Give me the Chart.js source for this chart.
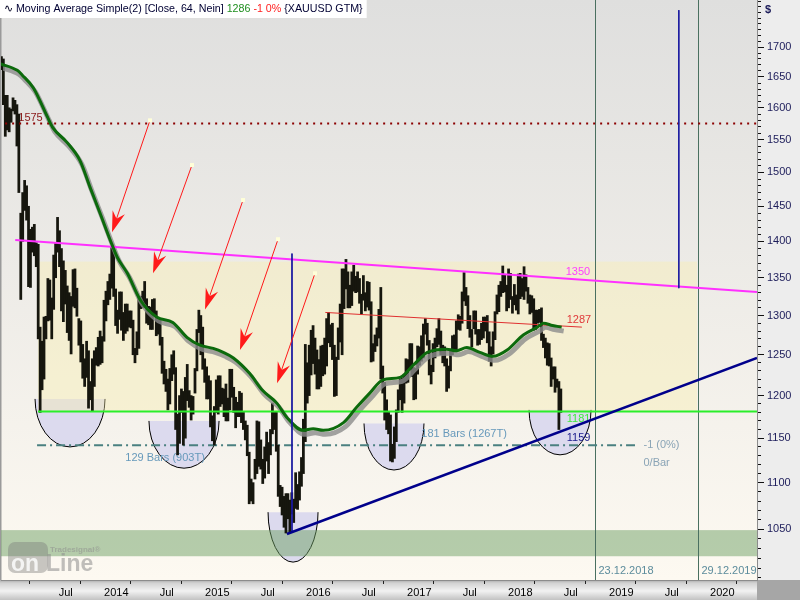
<!DOCTYPE html>
<html>
<head>
<meta charset="utf-8">
<title>XAUUSD weekly</title>
<script src="https://cdn.jsdelivr.net/npm/chart.js@4.4.0/dist/chart.umd.min.js"></script>
<style>
  html, body { margin: 0; padding: 0; background: #ededed; }
  #chart { display: block; }
</style>
</head>
<body>
<canvas id="chart" width="800" height="600"></canvas>
<script>
// weekly lows / highs of XAUUSD, first bar = week of 4 Feb 2013
const lows2013 = [1662, 1605, 1555, 1565, 1562, 1577, 1595, 1590, 1540, 1470, 1321, 1400, 1444,
  1430, 1338, 1337, 1385, 1380, 1365, 1270, 1180, 1207, 1220, 1270, 1293, 1294,
  1270, 1308, 1350, 1385, 1365, 1306, 1292, 1315, 1278, 1268, 1251, 1312, 1310,
  1299, 1262, 1241, 1221, 1211, 1222, 1185, 1195, 1182];
const highs2013 = [1684, 1680, 1620, 1620, 1600, 1598, 1616, 1612, 1605, 1590, 1440, 1470, 1488,
  1480, 1450, 1417, 1420, 1424, 1398, 1396, 1285, 1267, 1298, 1299, 1349, 1347,
  1323, 1381, 1397, 1434, 1415, 1390, 1373, 1360, 1339, 1330, 1325, 1361, 1362,
  1336, 1296, 1293, 1263, 1245, 1267, 1255, 1217, 1245];

const lows2014 = [1211, 1237, 1236, 1238, 1240, 1267, 1293, 1314, 1321, 1336, 1325, 1287, 1277,
  1295, 1281, 1268, 1277, 1280, 1285, 1284, 1250, 1240, 1250, 1258, 1309, 1310,
  1310, 1290, 1288, 1282, 1282, 1300, 1274, 1276, 1262, 1227, 1214, 1205, 1183,
  1190, 1218, 1226, 1160, 1131, 1144, 1180, 1142, 1150, 1194, 1186, 1171, 1178];
const highs2014 = [1255, 1259, 1272, 1280, 1273, 1320, 1332, 1345, 1355, 1392, 1390, 1335, 1307,
  1331, 1331, 1304, 1315, 1315, 1306, 1306, 1294, 1258, 1279, 1325, 1325, 1332,
  1345, 1322, 1312, 1311, 1321, 1322, 1306, 1296, 1294, 1272, 1242, 1232, 1220,
  1233, 1250, 1255, 1234, 1178, 1200, 1208, 1205, 1222, 1238, 1206, 1200, 1199];

const lows2015 = [1203, 1230, 1278, 1250, 1232, 1216, 1196, 1196, 1163, 1147, 1142, 1180, 1178,
  1187, 1190, 1175, 1170, 1170, 1183, 1198, 1180, 1162, 1175, 1175, 1168, 1160,
  1148, 1130, 1077, 1080, 1077, 1104, 1110, 1118, 1115, 1099, 1105, 1124, 1110,
  1131, 1155, 1160, 1135, 1085, 1074, 1065, 1052, 1046, 1061, 1047, 1066, 1057];
const highs2015 = [1233, 1282, 1307, 1300, 1285, 1245, 1235, 1224, 1218, 1176, 1187, 1219, 1224,
  1224, 1209, 1208, 1214, 1197, 1232, 1232, 1210, 1198, 1192, 1205, 1203, 1180,
  1170, 1165, 1134, 1104, 1100, 1126, 1170, 1169, 1148, 1126, 1140, 1157, 1145,
  1160, 1191, 1180, 1180, 1142, 1097, 1095, 1085, 1088, 1088, 1081, 1089, 1082];

const lows2016 = [1072, 1071, 1081, 1096, 1110, 1146, 1191, 1200, 1225, 1239, 1226, 1208, 1208,
  1211, 1224, 1226, 1236, 1265, 1260, 1244, 1199, 1200, 1244, 1266, 1250, 1309,
  1335, 1310, 1310, 1313, 1332, 1330, 1331, 1316, 1302, 1320, 1306, 1311, 1307,
  1241, 1242, 1254, 1261, 1271, 1220, 1203, 1171, 1160, 1155, 1124, 1123, 1127];
const highs2016 = [1111, 1098, 1112, 1128, 1172, 1263, 1240, 1262, 1281, 1287, 1271, 1256, 1244,
  1261, 1262, 1271, 1296, 1304, 1288, 1290, 1262, 1247, 1284, 1315, 1362, 1362,
  1375, 1358, 1340, 1358, 1367, 1352, 1358, 1349, 1328, 1353, 1330, 1345, 1344,
  1318, 1264, 1275, 1284, 1308, 1337, 1236, 1216, 1195, 1180, 1177, 1143, 1163];

const lows2017 = [1146, 1180, 1195, 1180, 1191, 1215, 1216, 1232, 1223, 1195, 1196, 1226, 1237,
  1242, 1246, 1276, 1262, 1225, 1214, 1229, 1246, 1260, 1263, 1250, 1240, 1236,
  1205, 1209, 1230, 1250, 1256, 1256, 1282, 1281, 1290, 1319, 1313, 1283, 1272,
  1260, 1283, 1276, 1262, 1263, 1269, 1271, 1280, 1265, 1242, 1236, 1251, 1269];
const highs2017 = [1183, 1207, 1220, 1221, 1226, 1245, 1244, 1264, 1264, 1234, 1233, 1261, 1260,
  1274, 1289, 1296, 1290, 1268, 1237, 1264, 1271, 1283, 1296, 1280, 1262, 1260,
  1245, 1236, 1257, 1274, 1275, 1293, 1301, 1299, 1331, 1357, 1337, 1326, 1300,
  1282, 1306, 1306, 1282, 1282, 1290, 1298, 1298, 1300, 1279, 1260, 1279, 1305];

const lows2018 = [1302, 1305, 1325, 1330, 1331, 1306, 1310, 1321, 1303, 1314, 1307, 1302, 1322,
  1325, 1321, 1332, 1316, 1302, 1304, 1281, 1282, 1290, 1291, 1268, 1259, 1246,
  1237, 1236, 1211, 1220, 1204, 1210, 1160, 1180];
const highs2018 = [1327, 1340, 1345, 1366, 1354, 1340, 1362, 1356, 1325, 1341, 1327, 1355, 1356,
  1349, 1365, 1354, 1337, 1327, 1326, 1322, 1307, 1307, 1308, 1310, 1276, 1271,
  1265, 1264, 1246, 1235, 1235, 1220, 1217, 1208];

const lows = [].concat(lows2013, lows2014, lows2015, lows2016, lows2017, lows2018);
const highs = [].concat(highs2013, highs2014, highs2015, highs2016, highs2017, highs2018);
const firstWeek = 2013 + 34 / 365; // 4 Feb 2013 as decimal year

// 64 week simple moving average
const maTimes = [2013.08, 2013.25, 2013.30, 2013.41, 2013.55, 2013.60, 2013.74, 2013.87, 2013.97,
  2014.07, 2014.17, 2014.24, 2014.34, 2014.47, 2014.63, 2014.79, 2014.93, 2015.06, 2015.19,
  2015.29, 2015.39, 2015.55, 2015.68, 2015.82, 2015.92, 2016.08, 2016.18, 2016.28, 2016.48,
  2016.61, 2016.74, 2016.87, 2017.04, 2017.17, 2017.31, 2017.50, 2017.60, 2017.70, 2017.83,
  2017.96, 2018.10, 2018.26, 2018.40, 2018.46, 2018.55, 2018.64];
const maValues = [1672, 1661, 1653, 1632, 1585, 1569, 1546, 1518, 1478,
  1440, 1402, 1378, 1356, 1320, 1298, 1291, 1272, 1262, 1258,
  1253, 1246, 1227, 1206, 1191, 1174, 1159, 1161, 1159, 1168,
  1186, 1203, 1219, 1222, 1237, 1253, 1257, 1255, 1259, 1253,
  1248, 1256, 1275, 1285, 1290, 1287, 1285];

// axis ticks
const priceLabels = [1050, 1100, 1150, 1200, 1250, 1300, 1350, 1400, 1450, 1500, 1550, 1600, 1650, 1700];
const xMin = 2013.089, xMax = 2020.574;
const yMin = 998, yMax = 1782;

// drawn objects, as [decimal year, price]
const resistanceLine = [[2013.23, 1402], [2020.574, 1331]];
const supportLine = [[2015.92, 1045], [2020.574, 1246]];
const midLine = [[2016.30, 1304], [2018.84, 1285]];
const level1575 = [[2013.13, 1575], [2020.574, 1575]];
const level1181 = [[2013.455, 1181], [2020.574, 1181]];
const barCountLine = [[2013.446, 1142], [2019.366, 1142]];
const markerLine1 = [[2015.97, 1383], [2015.97, 1046]];
const markerLine2 = [[2019.80, 1764], [2019.80, 1336]];
const dateLines = [[2018.975, '23.12.2018'], [2019.99, '29.12.2019']];
const rangeBox = [2013.455, 2019.98, 1372, 1181];
const lowBand = [1049, 1022];
// half ellipses: [from, to, top price, bottom price]
const bowls = [
  [2013.426, 2014.119, 1196, 1140],
  [2014.554, 2015.248, 1170, 1116],
  [2016.683, 2017.277, 1167, 1114],
  [2018.317, 2018.931, 1183, 1131],
  [2015.733, 2016.228, 1068, 1016]
];
// arrows: [tail year, tail price, tip year, tip price]
const arrows = [
  [2014.564, 1580, 2014.188, 1413],
  [2014.980, 1511, 2014.594, 1356],
  [2015.485, 1459, 2015.109, 1308],
  [2015.832, 1403, 2015.455, 1256],
  [2016.198, 1356, 2015.822, 1215]
];
const notes = [
  { text: '1575', t: 2013.26, v: 1575, color: '#8b1a1a', base: 'bottom' },
  { text: '1350', t: 2018.68, v: 1350, color: '#ff40ff', base: 'bottom' },
  { text: '1287', t: 2018.69, v: 1287, color: '#e03a3a', base: 'bottom' },
  { text: '1181', t: 2018.69, v: 1181, color: '#3fe83f', base: 'top' },
  { text: '1159', t: 2018.69, v: 1159, color: '#1a1a8c', base: 'top' },
  { text: '129 Bars (903T)', t: 2014.32, v: 1128, color: '#6699bb', base: 'middle' },
  { text: '181 Bars (1267T)', t: 2017.25, v: 1155, color: '#6699bb', base: 'middle' },
  { text: '-1 (0%)', t: 2019.45, v: 1142, color: '#8aa4b6', base: 'middle' },
  { text: '0/Bar', t: 2019.45, v: 1122, color: '#8aa4b6', base: 'middle' }
];

const weekTimes = lows.map((_, i) => firstWeek + i * 7 / 365.25);
const points = pairs => pairs.map(p => ({ x: p[0], y: p[1] }));
const maPoints = maTimes.map((t, i) => ({ x: t, y: maValues[i] }));

const minorTicks = [];
for (let v = 1000; v <= 1780; v += 10) minorTicks.push(v);
const quarterTicks = [];
for (let q = Math.ceil(xMin * 4); q <= Math.floor(xMax * 4); q++) quarterTicks.push(q / 4);

Chart.defaults.font.family = '"Liberation Sans", Arial, sans-serif';
Chart.defaults.font.size = 11;

function noPadding(s) {
  s.paddingTop = 0;
  s.paddingBottom = 0;
  s.paddingLeft = 0;
  s.paddingRight = 0;
}

const backgroundPlugin = {
  id: 'backgroundPlugin',
  beforeDraw(chart) {
    const { ctx, chartArea: a, width, height } = chart;
    ctx.save();
    ctx.fillStyle = '#ededed';
    ctx.fillRect(0, 0, width, height);
    const g = ctx.createLinearGradient(0, a.top, 0, a.bottom);
    g.addColorStop(0, '#dfdfde');
    g.addColorStop(1, '#fdf9f1');
    ctx.fillStyle = g;
    ctx.fillRect(0, a.top, a.right, a.bottom - a.top);
    const s = ctx.createLinearGradient(0, a.bottom, 0, height);
    s.addColorStop(0, '#a8a8a8');
    s.addColorStop(0.15, '#d2d2d2');
    s.addColorStop(0.55, '#f2f2f2');
    s.addColorStop(1, '#c2c2c2');
    ctx.fillStyle = s;
    ctx.fillRect(0, a.bottom, a.right, height - a.bottom);
    ctx.fillStyle = '#a6a6a6';
    ctx.fillRect(a.right, a.bottom, width - a.right, height - a.bottom);
    ctx.fillStyle = '#9a9a9a';
    ctx.fillRect(0, 0, 1.5, a.bottom);
    ctx.restore();
  }
};

const underlayPlugin = {
  id: 'underlayPlugin',
  beforeDatasetsDraw(chart) {
    const { ctx, chartArea: a, scales: { x, y } } = chart;
    ctx.save();
    ctx.beginPath();
    ctx.rect(a.left, a.top, a.right - a.left, a.bottom - a.top);
    ctx.clip();

    // half ellipses under the lows
    bowls.forEach(([t1, t2, vt, vb]) => {
      const x1 = x.getPixelForValue(t1), x2 = x.getPixelForValue(t2);
      const yt = y.getPixelForValue(vt), yb = y.getPixelForValue(vb);
      ctx.beginPath();
      ctx.ellipse((x1 + x2) / 2, yt, (x2 - x1) / 2, yb - yt, 0, 0, Math.PI);
      ctx.closePath();
      ctx.fillStyle = '#dcdaee';
      ctx.fill();
      ctx.beginPath();
      ctx.ellipse((x1 + x2) / 2, yt, (x2 - x1) / 2, yb - yt, 0, 0, Math.PI);
      ctx.strokeStyle = '#000';
      ctx.lineWidth = 1;
      ctx.stroke();
    });

    // range box
    const bx1 = x.getPixelForValue(rangeBox[0]), bx2 = x.getPixelForValue(rangeBox[1]);
    const by1 = y.getPixelForValue(rangeBox[2]), by2 = y.getPixelForValue(rangeBox[3]);
    ctx.fillStyle = 'rgba(250, 240, 170, 0.38)';
    ctx.fillRect(bx1, by1, bx2 - bx1, by2 - by1);

    // green band at the bottom
    const gy1 = y.getPixelForValue(lowBand[0]), gy2 = y.getPixelForValue(lowBand[1]);
    ctx.fillStyle = 'rgba(110, 160, 100, 0.5)';
    ctx.fillRect(a.left, gy1, a.right - a.left, gy2 - gy1);

    // date lines
    ctx.strokeStyle = '#4a7060';
    ctx.lineWidth = 1;
    ctx.font = '11px "Liberation Sans"';
    ctx.textBaseline = 'middle';
    dateLines.forEach(([t, label]) => {
      const px = Math.round(x.getPixelForValue(t)) + 0.5;
      ctx.beginPath();
      ctx.moveTo(px, a.top);
      ctx.lineTo(px, a.bottom);
      ctx.stroke();
      ctx.fillStyle = '#5c8c9c';
      ctx.fillText(label, px + 3, a.bottom - 9);
    });

    // value notes
    notes.forEach(n => {
      ctx.fillStyle = n.color;
      ctx.textBaseline = n.base;
      ctx.fillText(n.text, x.getPixelForValue(n.t), y.getPixelForValue(n.v) + (n.base === 'top' ? 2 : 0));
    });
    ctx.restore();
  }
};

const shadowPlugin = {
  id: 'shadowPlugin',
  beforeDatasetDraw(chart, args) {
    if (chart.data.datasets[args.index].shadow) {
      chart.ctx.save();
      chart.ctx.translate(2, 4);
    }
  },
  afterDatasetDraw(chart, args) {
    if (chart.data.datasets[args.index].shadow) chart.ctx.restore();
  }
};

const overlayPlugin = {
  id: 'overlayPlugin',
  afterDatasetsDraw(chart) {
    const { ctx, chartArea: a, scales: { x, y } } = chart;
    ctx.save();

    // arrows
    arrows.forEach(([t0, v0, t1, v1]) => {
      const x0 = x.getPixelForValue(t0), y0 = y.getPixelForValue(v0);
      const x1 = x.getPixelForValue(t1), y1 = y.getPixelForValue(v1);
      const len = Math.hypot(x1 - x0, y1 - y0);
      const ux = (x1 - x0) / len, uy = (y1 - y0) / len;
      const nx = -uy, ny = ux;
      ctx.strokeStyle = '#ff1a1a';
      ctx.lineWidth = 1;
      ctx.beginPath();
      ctx.moveTo(x0, y0);
      ctx.lineTo(x1 - ux * 12, y1 - uy * 12);
      ctx.stroke();
      ctx.fillStyle = '#ff1a1a';
      ctx.beginPath();
      ctx.moveTo(x1, y1);
      ctx.lineTo(x1 - ux * 21 + nx * 6.5, y1 - uy * 21 + ny * 6.5);
      ctx.lineTo(x1 - ux * 14, y1 - uy * 14);
      ctx.lineTo(x1 - ux * 21 - nx * 6.5, y1 - uy * 21 - ny * 6.5);
      ctx.closePath();
      ctx.fill();
      ctx.fillStyle = '#ffffd8';
      ctx.fillRect(x0 - 2, y0 - 2, 4, 4);
    });

    // logo
    ctx.fillStyle = 'rgba(120, 120, 120, 0.4)';
    ctx.beginPath();
    ctx.roundRect(8, 542, 40, 31, 7);
    ctx.fill();
    ctx.font = 'bold 23px "Liberation Sans"';
    ctx.textBaseline = 'alphabetic';
    ctx.fillStyle = 'rgba(255, 255, 255, 0.8)';
    ctx.fillText('on', 11, 571);
    ctx.fillStyle = 'rgba(140, 140, 140, 0.55)';
    ctx.fillText('Line', 46, 571);
    ctx.font = 'bold 8px "Liberation Sans"';
    ctx.fillText('Tradesignal\u00ae', 50, 552);

    // title box
    const parts = [
      ['\u223f ', '#000022'],
      ['Moving Average Simple(2) [Close, 64, Nein] ', '#000033'],
      ['1286 ', '#1f8f1f'],
      ['-1 0% ', '#ff2020'],
      ['{XAUUSD GTM}', '#000033']
    ];
    ctx.font = '10.7px "Liberation Sans"';
    let w = 4;
    parts.forEach(p => { w += ctx.measureText(p[0]).width; });
    ctx.fillStyle = '#ffffff';
    ctx.fillRect(0, 0, w + 4, 18);
    ctx.textBaseline = 'middle';
    let px = 4;
    parts.forEach(([txt, col]) => {
      ctx.fillStyle = col;
      ctx.fillText(txt, px, 9.5);
      px += ctx.measureText(txt).width;
    });

    // currency sign on the price axis
    ctx.font = 'bold 11px "Liberation Sans"';
    ctx.fillStyle = '#1c1c5a';
    ctx.fillText('$', a.right + 8, 10);
    ctx.restore();
  }
};

new Chart(document.getElementById('chart'), {
  type: 'bar',
  data: {
    datasets: [
      { type: 'line', label: 'SMA 64', data: maPoints, borderColor: '#0c6a0c', borderWidth: 3,
        cubicInterpolationMode: 'monotone', order: 1 },
      { type: 'line', label: 'SMA shadow', shadow: true, data: maPoints, borderColor: 'rgba(140, 140, 140, 0.8)',
        borderWidth: 5, cubicInterpolationMode: 'monotone', order: 3 },
      { type: 'bar', label: 'XAUUSD', data: weekTimes.map((t, i) => ({ x: t, y: [lows[i], highs[i]] })),
        backgroundColor: '#16160e', barThickness: 2.1, order: 4 },
      { type: 'line', label: 'resistance', data: points(resistanceLine), borderColor: '#ff30ff', borderWidth: 2, order: 2 },
      { type: 'line', label: 'support', data: points(supportLine), borderColor: '#00008b', borderWidth: 2.5, order: 0 },
      { type: 'line', label: 'mid', data: points(midLine), borderColor: '#e03030', borderWidth: 1, order: 2 },
      { type: 'line', label: '1575', data: points(level1575), borderColor: '#8b0000', borderWidth: 2,
        borderDash: [2, 5], order: 2 },
      { type: 'line', label: '1181', data: points(level1181), borderColor: '#2aee2a', borderWidth: 2, order: 2 },
      { type: 'line', label: 'bars', data: points(barCountLine), borderColor: '#4a8080', borderWidth: 2,
        borderDash: [9, 4, 2, 4], order: 5 },
      { type: 'line', label: 'marker 1', data: points(markerLine1), borderColor: '#1a1aa0', borderWidth: 1, order: 0 },
      { type: 'line', label: 'marker 2', data: points(markerLine2), borderColor: '#1a1aa0', borderWidth: 1, order: 0 }
    ]
  },
  options: {
    responsive: false,
    animation: false,
    layout: { padding: { left: 1, top: 0, right: 0, bottom: 0 }, autoPadding: false },
    elements: { point: { radius: 0 }, line: { fill: false } },
    plugins: { legend: { display: false }, tooltip: { enabled: false }, title: { display: false } },
    scales: {
      x: {
        type: 'linear', min: xMin, max: xMax, offset: false,
        grid: {
          drawOnChartArea: false, tickLength: 4,
          tickColor: c => (c.tick && Math.round(c.tick.value * 4) % 2 !== 0 ? 'rgba(0,0,0,0)' : '#222')
        },
        border: { display: true, color: '#8c8c8c' },
        ticks: {
          autoSkip: false, maxRotation: 0, padding: 2, color: '#000', labelOffset: -2,
          callback: v => {
            const q = Math.round(v * 4);
            const start = (q - 1) / 4;
            if (q % 2 === 0 || start < xMin) return '';
            return q % 4 === 1 ? String(start) : 'Jul';
          }
        },
        afterBuildTicks: s => { s.ticks = quarterTicks.map(v => ({ value: v })); },
        afterFit: s => { s.height = 20; noPadding(s); }
      },
      y: {
        type: 'logarithmic', position: 'right', min: yMin, max: yMax,
        grid: {
          drawOnChartArea: false, tickLength: 7, tickColor: '#111',
          tickBorderDash: c => (c.tick && priceLabels.includes(c.tick.value) ? [] : [3, 20])
        },
        border: { display: true, color: '#8c8c8c' },
        ticks: {
          autoSkip: false, padding: 3, color: '#1c1c5a',
          callback: v => (priceLabels.includes(v) ? String(v) : '')
        },
        afterBuildTicks: s => { s.ticks = minorTicks.map(v => ({ value: v })); },
        afterFit: s => { s.width = 43; noPadding(s); }
      }
    }
  },
  plugins: [backgroundPlugin, underlayPlugin, shadowPlugin, overlayPlugin]
});
</script>
</body>
</html>
